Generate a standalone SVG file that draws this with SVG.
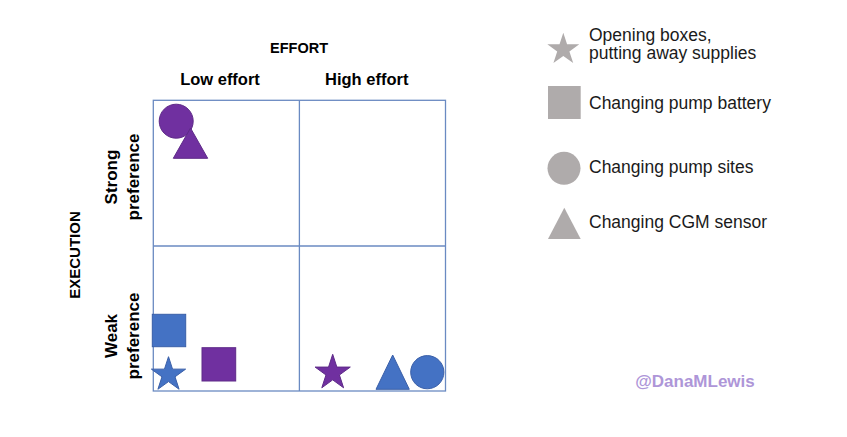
<svg xmlns="http://www.w3.org/2000/svg" width="847" height="437" viewBox="0 0 847 437">
  <style>
    .lbl { font-family: "Liberation Sans", Arial, sans-serif; font-weight: bold; fill: #000000; text-anchor: middle; }
    .leg { font-family: "Liberation Sans", Arial, sans-serif; font-size: 17.5px; fill: #1a1a1a; }
    .grid { fill: none; stroke: #6A8AC2; stroke-width: 1.3; }
    .purple { fill: #7030A0; stroke: #5E2A88; stroke-width: 1; }
    .blue { fill: #4472C4; stroke: #3A5FA8; stroke-width: 1; }
    .gray { fill: #AFABAB; stroke: none; }
    .wm { font-family: "Liberation Sans", Arial, sans-serif; font-weight: bold; font-size: 17px; fill: #AE96D8; text-anchor: middle; }
  </style>
  <rect width="847" height="437" fill="#ffffff"/>

  <g id="grid">
    <rect class="grid" x="153.3" y="100.3" width="292.2" height="290.7"/>
    <line class="grid" x1="299.4" y1="100.3" x2="299.4" y2="391"/>
    <line class="grid" x1="153.3" y1="246" x2="445.5" y2="246"/>
  </g>

  <g id="axis-labels">
    <text class="lbl" x="299" y="52.7" font-size="14.5">EFFORT</text>
    <text class="lbl" x="220" y="85" font-size="16.5">Low effort</text>
    <text class="lbl" x="366.7" y="85" font-size="16.5">High effort</text>
    <text class="lbl" font-size="15" transform="translate(80,255) rotate(-90)">EXECUTION</text>
    <text class="lbl" font-size="17" transform="translate(116.5,177) rotate(-90)">Strong</text>
    <text class="lbl" font-size="17" transform="translate(139,177) rotate(-90)">preference</text>
    <text class="lbl" font-size="17" transform="translate(116.5,336) rotate(-90)">Weak</text>
    <text class="lbl" font-size="17" transform="translate(139,336) rotate(-90)">preference</text>
  </g>

  <g id="markers">
    <g id="strong-low-sites"><circle class="purple" cx="176.2" cy="121.2" r="17"/></g>
    <g id="strong-low-cgm"><polygon class="purple" points="190.5,128 207.7,158.3 173.3,158.3"/></g>
    <g id="weak-low-battery-blue"><rect class="blue" x="152.3" y="314.3" width="33.4" height="32.4"/></g>
    <g id="weak-low-boxes-blue"><polygon class="blue" points="168.5,356.7 172.54,369.14 185.62,369.14 175.03,376.82 179.08,389.26 168.5,381.58 157.92,389.26 161.97,376.82 151.38,369.14 164.46,369.14"/></g>
    <g id="weak-low-battery-purple"><rect class="purple" x="202" y="347.7" width="33.7" height="33.3"/></g>
    <g id="weak-high-boxes-purple"><polygon class="purple" points="332.7,354.3 336.85,367.08 350.29,367.08 339.42,374.98 343.58,387.77 332.7,379.87 321.82,387.77 325.98,374.98 315.11,367.08 328.55,367.08"/></g>
    <g id="weak-high-cgm-blue"><polygon class="blue" points="392.7,355 409.3,389.3 376,389.3"/></g>
    <g id="weak-high-sites-blue"><circle class="blue" cx="427.3" cy="372.2" r="16.6"/></g>
  </g>

  <g id="legend">
    <g id="legend-boxes">
      <polygon class="gray" points="563.3,32.7 567.07,44.31 579.28,44.31 569.4,51.48 573.18,63.09 563.3,55.92 553.42,63.09 557.2,51.48 547.32,44.31 559.53,44.31"/>
      <text class="leg" x="589" y="40.7">Opening boxes,</text>
      <text class="leg" x="589" y="59.3">putting away supplies</text>
    </g>
    <g id="legend-battery">
      <rect class="gray" x="548" y="86" width="32.7" height="33"/>
      <text class="leg" x="589" y="109.3">Changing pump battery</text>
    </g>
    <g id="legend-sites">
      <circle class="gray" cx="564" cy="168.3" r="16.5"/>
      <text class="leg" x="589" y="173.3">Changing pump sites</text>
    </g>
    <g id="legend-cgm">
      <polygon class="gray" points="564.3,207.7 580.7,239 548,239"/>
      <text class="leg" x="589" y="228.3">Changing CGM sensor</text>
    </g>
  </g>

  <g id="watermark">
    <text class="wm" x="695" y="387">@DanaMLewis</text>
  </g>
</svg>
